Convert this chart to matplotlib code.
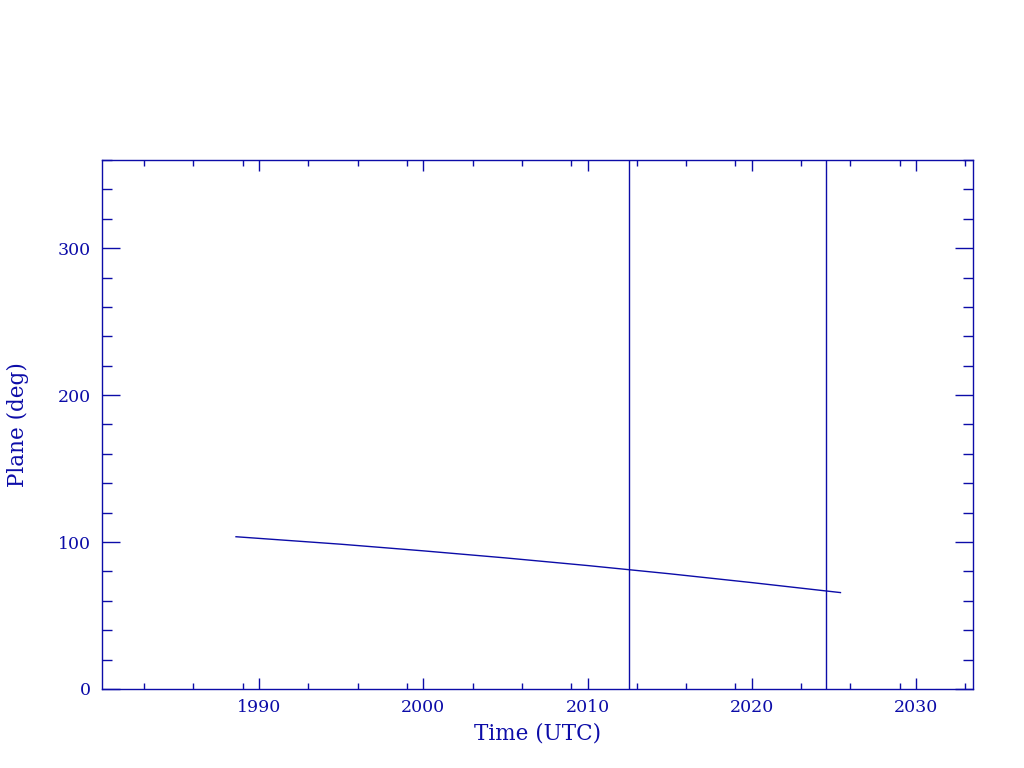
import numpy as np
import matplotlib.pyplot as plt
from matplotlib.ticker import FixedLocator, MultipleLocator

# data
years = [1988.6, 1995.0, 2000.0, 2005.0, 2010.0, 2015.0, 2020.0, 2025.4]
plane = [103.6, 98.5, 94.0, 89.2, 84.0, 78.4, 72.4, 65.6]
event_years = [2012.5, 2024.5]

major_years = [1990, 2000, 2010, 2020, 2030]
minor_years = [1983, 1986, 1989, 1993, 1996, 1999, 2003, 2006, 2009,
               2013, 2016, 2019, 2023, 2026, 2029, 2033]

col = '#0c0ca8'
plt.rcParams['font.family'] = ['DejaVu Serif']

fig = plt.figure(figsize=(10.24, 7.68), dpi=100)
ax = fig.add_axes([0.0996, 0.1029, 0.8506, 0.6888])

ax.plot(years, plane, color=col, lw=1.0)
for ev in event_years:
    ax.axvline(ev, color=col, lw=1.0)

ax.set_xlim(1980.44, 2033.47)
ax.set_ylim(0, 360)

ax.xaxis.set_major_locator(FixedLocator(major_years))
ax.xaxis.set_minor_locator(FixedLocator(minor_years))
ax.yaxis.set_major_locator(MultipleLocator(100))
ax.yaxis.set_minor_locator(MultipleLocator(20))
ax.set_yticks([0, 100, 200, 300])

for s in ax.spines.values():
    s.set_color(col)
    s.set_linewidth(1.0)

ax.tick_params(axis='both', which='both', direction='in', colors=col,
               top=True, right=True, width=1.0, labelsize=12.5)
ax.tick_params(axis='x', which='major', length=8, pad=7)
ax.tick_params(axis='x', which='minor', length=4)
ax.tick_params(axis='y', which='major', length=13, pad=8)
ax.tick_params(axis='y', which='minor', length=7)

ax.set_xlabel('Time (UTC)', color=col, fontsize=15.5, labelpad=5)
ax.set_ylabel('Plane (deg)', color=col, fontsize=15.5, labelpad=21)

fig.savefig('out.png', dpi=100)
